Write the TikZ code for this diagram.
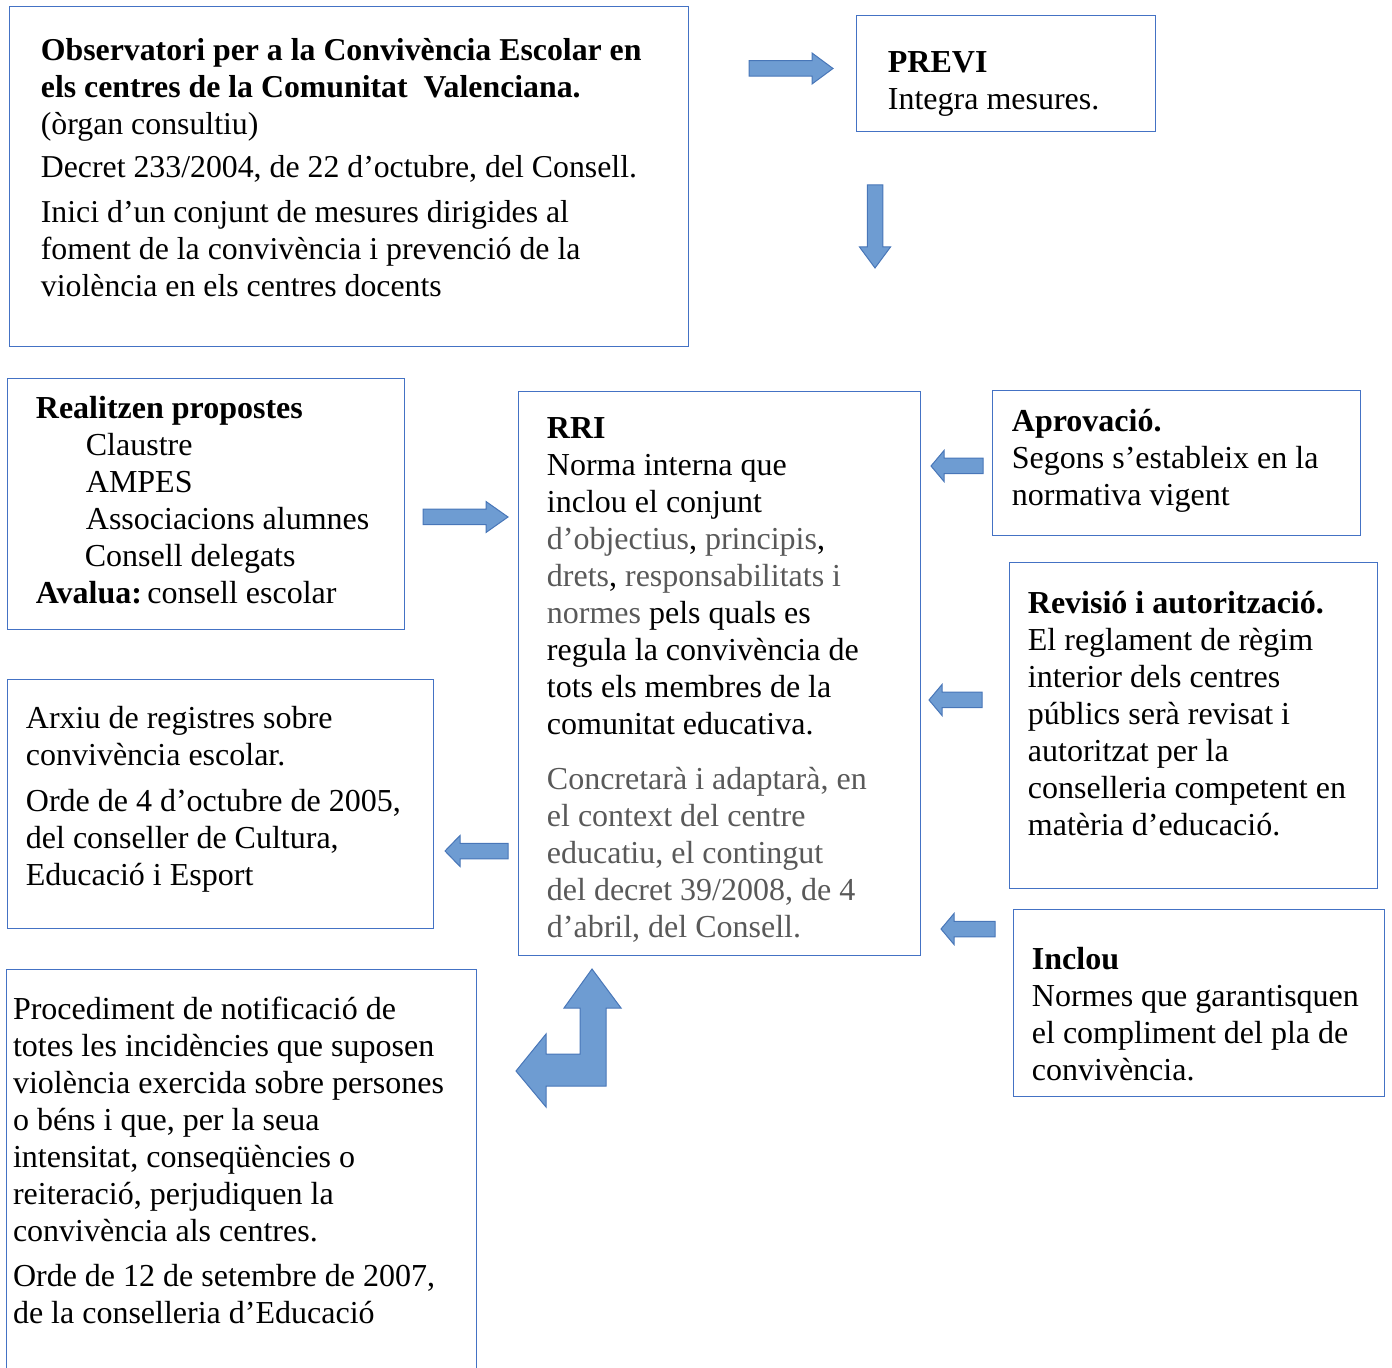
\documentclass[tikz,border=0pt]{standalone}
\usepackage{fontspec}
\setmainfont{Liberation Serif}
\usetikzlibrary{fit}
\definecolor{boxline}{RGB}{68,114,196}
\definecolor{arrowfill}{RGB}{110,156,210}
\definecolor{arrowline}{RGB}{72,118,184}
\definecolor{txtgray}{RGB}{89,89,89}
\newcommand{\grtxt}[1]{\textcolor{txtgray}{#1}}
\tikzset{
  box/.style={draw=boxline, line width=0.5pt, inner sep=0pt},
  txt/.style={inner sep=0pt, anchor=north west, align=left,
    font=\fontsize{16}{18.5}\selectfont, execute at begin node=\strut},
  arrowstyle/.style={draw=arrowline, fill=arrowfill, line width=0.5pt},
  % block arrow pointing along +x: length #1, head length #2
  pics/blockarr/.style 2 args={code={
    \filldraw[arrowstyle] (0,-7.75) -- ({#1-#2},-7.75) -- ({#1-#2},-15.5)
      -- (#1,0) -- ({#1-#2},15.5) -- ({#1-#2},7.75) -- (0,7.75) -- cycle;}}
}
\begin{document}
\begin{tikzpicture}[x=0.5pt, y=-0.5pt]
  \useasboundingbox (0,0) rectangle (1392,1368);
  % boxes
  \node[box, fit={(9,7) (688,347)}] (obs) {};
  \node[box, fit={(856,16) (1155,132)}] (previ) {};
  \node[box, fit={(7,379) (404,630)}] (prop) {};
  \node[box, fit={(518,392) (920,955)}] (rri) {};
  \node[box, fit={(992,391) (1360,536)}] (aprov) {};
  \node[box, fit={(1009,563) (1377,888)}] (revis) {};
  \node[box, fit={(1013,909) (1384,1096)}] (inclou) {};
  \node[box, fit={(7,680) (433,928)}] (arxiu) {};
  \node[inner sep=0pt, fit={(7,970) (476,1368)}] (proc) {};
  \draw[box] (proc.south west) |- (proc.north east) -- (proc.south east);

  % texts
  \node[txt, font=\fontsize{15.9}{18.5}\selectfont] (obs-t) at ([shift={(32,32)}]obs.north west)
    {\textbf{Observatori per a la Convivència Escolar en}\\
     \textbf{els centres de la Comunitat\ \ Valenciana.}\\
     (òrgan consultiu)\\[3pt]
     Decret 233/2004, de 22 d’octubre, del Consell.\\[4pt]
     Inici d’un conjunt de mesures dirigides al\\
     foment de la convivència i prevenció de la\\
     violència en els centres docents};
  \node[txt] (previ-t) at ([shift={(32,36)}]previ.north west)
    {\textbf{PREVI}\\ Integra mesures.};
  \node[txt] (prop-t) at ([shift={(29,17)}]prop.north west)
    {\textbf{Realitzen propostes}\\
     \hspace*{25pt}Claustre\\
     \hspace*{25pt}AMPES\\
     \hspace*{25pt}Associacions alumnes\\
     \hspace*{24.5pt}Consell delegats\\
     \textbf{Avalua:}\,consell escolar};
  \node[txt] (rri-t) at ([shift={(29,26)}]rri.north west)
    {\textbf{RRI}\\
     Norma interna que\\
     inclou el conjunt\\
     \grtxt{d’objectius}, \grtxt{principis},\\
     \grtxt{drets}, \grtxt{responsabilitats i}\\
     \grtxt{normes} pels quals es\\
     regula la convivència de\\
     tots els membres de la\\
     comunitat educativa.\\[9pt]
     \grtxt{Concretarà i adaptarà, en}\\
     \grtxt{el context del centre}\\
     \grtxt{educatiu, el contingut}\\
     \grtxt{del decret 39/2008, de 4}\\
     \grtxt{d’abril, del Consell.}};
  \node[txt] (aprov-t) at ([shift={(20,18)}]aprov.north west)
    {\textbf{Aprovació.}\\
     Segons s’estableix en la\\
     normativa vigent};
  \node[txt] (revis-t) at ([shift={(19,28)}]revis.north west)
    {\textbf{Revisió i autorització.}\\
     El reglament de règim\\
     interior dels centres\\
     públics serà revisat i\\
     autoritzat per la\\
     conselleria competent en\\
     matèria d’educació.};
  \node[txt] (inclou-t) at ([shift={(19,38)}]inclou.north west)
    {\textbf{Inclou}\\
     Normes que garantisquen\\
     el compliment del pla de\\
     convivència.};
  \node[txt] (arxiu-t) at ([shift={(19,26)}]arxiu.north west)
    {Arxiu de registres sobre\\
     convivència escolar.\\[4.5pt]
     Orde de 4 d’octubre de 2005,\\
     del conseller de Cultura,\\
     Educació i Esport};
  \node[txt] (proc-t) at ([shift={(6,27)}]proc.north west)
    {Procediment de notificació de\\
     totes les incidències que suposen\\
     violència exercida sobre persones\\
     o béns i que, per la seua\\
     intensitat, conseqüències o\\
     reiteració, perjudiquen la\\
     convivència als centres.\\[4pt]
     Orde de 12 de setembre de 2007,\\
     de la conselleria d’Educació};

  % block arrows
  \pic (a-previ) at (749,68.5) {blockarr={84}{21}};
  \pic[rotate=-90] (a-down) at (875,185) {blockarr={83}{21}};
  \pic (a-prop) at (423,517) {blockarr={85}{22}};
  \pic[rotate=180] (a-aprov) at (983,466) {blockarr={52}{13}};
  \pic[rotate=180] (a-revis) at (982,700) {blockarr={53}{13}};
  \pic[rotate=180] (a-inclou) at (995,929) {blockarr={54}{13}};
  \pic[rotate=180] (a-arxiu) at (508,851) {blockarr={63}{15}};
  \filldraw[arrowstyle]
    (592,969) -- (621,1008) -- (606,1008) -- (606,1086) -- (546,1086)
    -- (546,1107) -- (516,1071) -- (546,1034) -- (546,1054) -- (580,1054)
    -- (580,1008) -- (564,1008) -- cycle;
\end{tikzpicture}
\end{document}
